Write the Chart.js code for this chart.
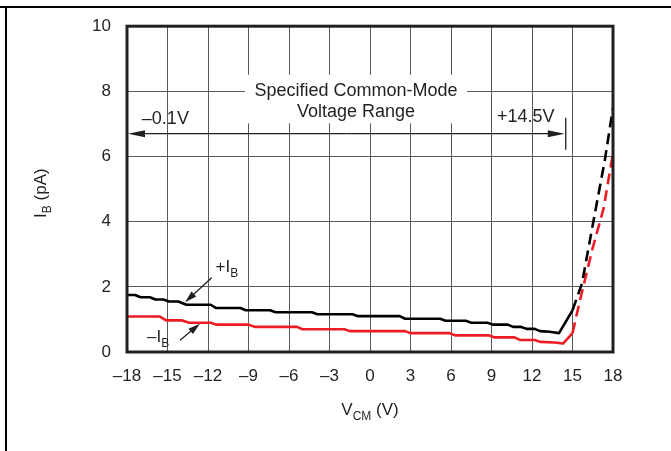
<!DOCTYPE html>
<html>
<head>
<meta charset="utf-8">
<script src="https://cdn.jsdelivr.net/npm/chart.js@4.4.1/dist/chart.umd.min.js"></script>
<style>
  html, body { margin: 0; padding: 0; background: #fff; }
  #wrap { width: 671px; height: 451px; position: relative; }
</style>
</head>
<body>
<div id="wrap"><canvas id="c" width="671" height="451"></canvas></div>
<script>
// +IB (black) curve
const vcmPos = [-18, -17.4, -17.0, -16.3, -15.9, -15.3, -14.9, -14.2, -13.6, -11.8, -11.4, -9.6, -9.2, -7.4, -7.0,
  -4.3, -3.9, -1.3, -0.9, 2.2, 2.6, 5.2, 5.6, 7.1, 7.5, 8.7, 9.1, 10.2, 10.6, 11.2, 11.6, 12.2, 12.6, 13.3, 14.0,
  15.0, 15.7, 16.5, 17.4, 18];
const ibPos = [1.75, 1.75, 1.68, 1.68, 1.61, 1.61, 1.55, 1.55, 1.45, 1.45, 1.35, 1.35, 1.28, 1.28, 1.22,
  1.22, 1.16, 1.16, 1.10, 1.10, 1.02, 1.02, 0.96, 0.96, 0.90, 0.90, 0.84, 0.84, 0.77, 0.77, 0.71, 0.71, 0.64, 0.62, 0.58,
  1.28, 2.1, 3.9, 5.9, 7.5];

// -IB (red) curve
const vcmNeg = [-18, -15.6, -15.1, -13.9, -13.4, -11.8, -11.4, -9.0, -8.5, -5.4, -5.0, -1.9, -1.5, 2.6, 3.0,
  5.9, 6.3, 8.8, 9.2, 10.7, 11.1, 12.2, 12.6, 13.7, 14.3, 15.0, 15.55, 16.5, 17.3, 18];
const ibNeg = [1.09, 1.09, 0.97, 0.97, 0.90, 0.90, 0.84, 0.84, 0.77, 0.77, 0.70, 0.70, 0.64, 0.64, 0.58,
  0.58, 0.51, 0.51, 0.45, 0.45, 0.37, 0.37, 0.31, 0.29, 0.26, 0.58, 1.58, 3.2, 4.4, 6.1];

const xTicks = [-18, -15, -12, -9, -6, -3, 0, 3, 6, 9, 12, 15, 18];
const yTicks = [0, 2, 4, 6, 8, 10];

const dashFrom = 15; // beyond specified range -> dashed
const FONT = '"Liberation Sans", Arial, Helvetica, sans-serif';
const INK = '#231f20';

const toPts = (xs, ys) => xs.map((x, i) => ({ x: x, y: ys[i] }));

function drawSub(ctx, main, sub, rest, x, y, size) {
  // centred text with a subscript
  const f1 = size + 'px ' + FONT, f2 = Math.round(size * 0.72) + 'px ' + FONT;
  ctx.font = f1; const w1 = ctx.measureText(main).width; const w3 = ctx.measureText(rest).width;
  ctx.font = f2; const w2 = ctx.measureText(sub).width;
  let cx = x - (w1 + w2 + w3) / 2;
  ctx.textAlign = 'left'; ctx.textBaseline = 'alphabetic';
  ctx.font = f1; ctx.fillText(main, cx, y); cx += w1;
  ctx.font = f2; ctx.fillText(sub, cx, y + size * 0.28); cx += w2;
  ctx.font = f1; ctx.fillText(rest, cx, y);
}

function arrow(ctx, x0, y0, x1, y1, len, half) {
  const a = Math.atan2(y1 - y0, x1 - x0);
  ctx.beginPath(); ctx.moveTo(x0, y0);
  ctx.lineTo(x1 - Math.cos(a) * len * 0.8, y1 - Math.sin(a) * len * 0.8); ctx.stroke();
  ctx.beginPath();
  ctx.moveTo(x1, y1);
  ctx.lineTo(x1 - Math.cos(a) * len - Math.sin(a) * half, y1 - Math.sin(a) * len + Math.cos(a) * half);
  ctx.lineTo(x1 - Math.cos(a) * len + Math.sin(a) * half, y1 - Math.sin(a) * len - Math.cos(a) * half);
  ctx.closePath(); ctx.fill();
}

const annotations = {
  id: 'annotations',
  beforeDatasetsDraw(chart) {
    // white box behind the range caption
    const { ctx, scales: { x, y } } = chart;
    ctx.save();
    ctx.fillStyle = '#fff';
    const l = x.getPixelForValue(-9.26), r = x.getPixelForValue(7.19);
    const t = y.getPixelForValue(8.51), b = y.getPixelForValue(7.02);
    ctx.fillRect(l, t, r - l, b - t);
    ctx.restore();
  },
  afterDraw(chart) {
    const { ctx, chartArea: a, scales: { x, y } } = chart;
    ctx.save();
    // plot frame
    ctx.strokeStyle = INK; ctx.lineWidth = 3;
    ctx.strokeRect(a.left, a.top, a.right - a.left, a.bottom - a.top);
    // page frame
    ctx.lineWidth = 2; ctx.strokeStyle = '#000';
    ctx.beginPath(); ctx.moveTo(0, 7); ctx.lineTo(671, 7); ctx.moveTo(6, 7); ctx.lineTo(6, 451); ctx.stroke();

    ctx.fillStyle = INK; ctx.strokeStyle = INK; ctx.lineWidth = 1.3;
    // common-mode range arrow
    const ay = y.getPixelForValue(6.7);
    const xl = x.getPixelForValue(-18), xr = x.getPixelForValue(14.5);
    arrow(ctx, (xl + xr) / 2, ay, xl + 1, ay, 17, 3.5);
    arrow(ctx, (xl + xr) / 2, ay, xr - 1, ay, 17, 3.5);
    ctx.beginPath(); ctx.moveTo(xr, ay - 16); ctx.lineTo(xr, ay + 16); ctx.stroke();

    ctx.font = '18px ' + FONT; ctx.textBaseline = 'alphabetic';
    ctx.textAlign = 'center';
    const cx = (x.getPixelForValue(-9.26) + x.getPixelForValue(7.19)) / 2;
    ctx.fillText('Specified Common-Mode', cx, y.getPixelForValue(8) + 5);
    ctx.fillText('Voltage Range', cx, y.getPixelForValue(8) + 26);
    ctx.textAlign = 'left';
    ctx.fillText('\u20130.1V', x.getPixelForValue(-16.9), ay - 10);
    ctx.fillText('+14.5V', x.getPixelForValue(9.4), ay - 12);

    // curve labels
    arrow(ctx, x.getPixelForValue(-11.73), y.getPixelForValue(2.28), x.getPixelForValue(-13.7), y.getPixelForValue(1.53), 12, 3.5);
    drawSub(ctx, '+I', 'B', '', x.getPixelForValue(-10.6), y.getPixelForValue(2.45), 17);
    arrow(ctx, x.getPixelForValue(-14.07), y.getPixelForValue(0.36), x.getPixelForValue(-12.6), y.getPixelForValue(0.87), 12, 3.5);
    drawSub(ctx, '\u2013I', 'B', '', x.getPixelForValue(-15.7), y.getPixelForValue(0.3), 17);

    // axis titles
    drawSub(ctx, 'V', 'CM', ' (V)', (a.left + a.right) / 2, 415, 17);
    ctx.translate(46, (a.top + a.bottom) / 2 + 4);
    ctx.rotate(-Math.PI / 2);
    drawSub(ctx, 'I', 'B', ' (pA)', 0, 0, 17);
    ctx.restore();
  }
};

const seg = {
  borderDash: c => (c.p0.parsed.x >= dashFrom - 1e-6 ? [11, 6] : undefined)
};

new Chart(document.getElementById('c').getContext('2d'), {
  type: 'line',
  data: {
    datasets: [
      { label: '+IB', data: toPts(vcmPos, ibPos), borderColor: '#000', borderWidth: 2.6, segment: seg },
      { label: '-IB', data: toPts(vcmNeg, ibNeg), borderColor: '#ed1c24', borderWidth: 2.6, segment: seg }
    ]
  },
  options: {
    responsive: false,
    animation: false,
    layout: { padding: { left: 0, right: 58, top: 23, bottom: 0 } },
    elements: { point: { radius: 0 }, line: { tension: 0, borderJoinStyle: 'round' } },
    plugins: { legend: { display: false }, tooltip: { enabled: false } },
    scales: {
      x: {
        type: 'linear', min: -18, max: 18,
        afterBuildTicks: s => { s.ticks = xTicks.map(v => ({ value: v })); },
        afterFit: s => { s.height = 99; },
        ticks: {
          color: INK, padding: 14, maxRotation: 0, autoSkip: false,
          font: { family: FONT, size: 17 },
          callback: v => (v < 0 ? '\u2013' + Math.abs(v) : String(v))
        },
        grid: { color: '#5a5a5a', lineWidth: 1, drawTicks: false },
        border: { display: false }
      },
      y: {
        min: 0, max: 10,
        afterBuildTicks: s => { s.ticks = yTicks.map(v => ({ value: v })); },
        afterFit: s => { s.width = 127; },
        ticks: { color: INK, padding: 16, font: { family: FONT, size: 17 } },
        grid: { color: '#5a5a5a', lineWidth: 1, drawTicks: false },
        border: { display: false }
      }
    }
  },
  plugins: [annotations]
});
</script>
</body>
</html>
